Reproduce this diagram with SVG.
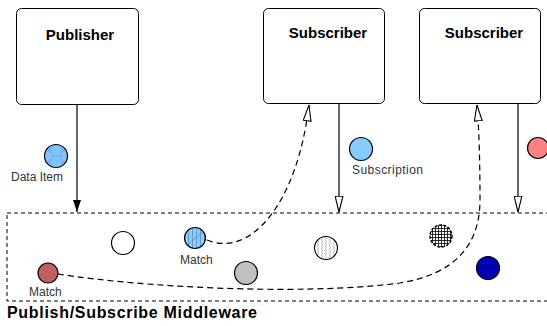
<svg xmlns="http://www.w3.org/2000/svg" width="547" height="326" viewBox="0 0 547 326">
  <style>
    .box { fill: #fff; stroke: #000; stroke-width: 1; }
    .title { font-family: "Liberation Sans", Arial, sans-serif; font-size: 15px; font-weight: bold; fill: #000; }
    .caption { font-family: "Liberation Sans", Arial, sans-serif; font-size: 16px; font-weight: bold; fill: #000; }
    .label { font-family: "Liberation Sans", Arial, sans-serif; font-size: 12px; fill: #333; }
    .solid { fill: none; stroke: #000; stroke-width: 1.2; }
    .dash { fill: none; stroke: #000; stroke-width: 1.2; stroke-dasharray: 6 4; }
    .zone { fill: none; stroke: #000; stroke-width: 1; stroke-dasharray: 4 3; }
    .ball { stroke: #000; stroke-width: 1.2; }
  </style>
  <defs>
    <marker id="filled" viewBox="0 0 12 8" refX="12" refY="4" markerWidth="12" markerHeight="8" orient="auto" markerUnits="userSpaceOnUse">
      <path d="M0,0 L12,4 L0,8 z" fill="#000"/>
    </marker>
    <marker id="hollow" viewBox="0 0 17 9" refX="16.5" refY="4.5" markerWidth="17" markerHeight="9" orient="auto" markerUnits="userSpaceOnUse">
      <path d="M0.6,0.6 L16.5,4.5 L0.6,8.4 z" fill="#fff" stroke="#000" stroke-width="1.1"/>
    </marker>
    <pattern id="grid" width="3" height="3" patternUnits="userSpaceOnUse">
      <rect width="3" height="3" fill="#fff"/>
      <path d="M0,0.5H3M0.5,0V3" stroke="#000" stroke-width="0.8"/>
    </pattern>
    <pattern id="vhatch" width="4" height="4" patternUnits="userSpaceOnUse">
      <rect width="4" height="4" fill="#8ccaff"/>
      <path d="M0.5,0V4" stroke="#4a7aa8" stroke-width="0.6"/>
    </pattern>
    <pattern id="wave" width="4" height="6" patternUnits="userSpaceOnUse">
      <rect width="4" height="6" fill="#fff"/>
      <path d="M1,0 L3,1.5 L1,3 L3,4.5 L1,6" fill="none" stroke="#aaa" stroke-width="0.7"/>
    </pattern>
    <clipPath id="dataClip"><circle cx="56" cy="156" r="11.5"/></clipPath>
    <clipPath id="matchClip"><circle cx="195" cy="238" r="10.5"/></clipPath>
  </defs>

  <!-- middleware zone -->
  <g id="middleware">
    <rect class="zone" x="7" y="213" width="545" height="88"/>
    <text class="caption" x="7" y="318" textLength="250" lengthAdjust="spacing">Publish/Subscribe Middleware</text>
  </g>

  <!-- participants -->
  <g id="publisher">
    <rect class="box" x="16.5" y="8.5" width="122" height="96" rx="5"/>
    <text class="title" x="80" y="40" text-anchor="middle">Publisher</text>
  </g>
  <g id="subscriber1">
    <rect class="box" x="263.5" y="8.5" width="121" height="95" rx="5"/>
    <text class="title" x="328" y="38" text-anchor="middle">Subscriber</text>
  </g>
  <g id="subscriber2">
    <rect class="box" x="419.5" y="8.5" width="121" height="95" rx="5"/>
    <text class="title" x="484" y="38" text-anchor="middle">Subscriber</text>
  </g>

  <!-- connectors -->
  <g id="connectors">
    <path class="solid" d="M77,104 V212" marker-end="url(#filled)"/>
    <path class="solid" d="M339,103 V212" marker-end="url(#hollow)"/>
    <path class="solid" d="M518,103 V212" marker-end="url(#hollow)"/>
    <path class="dash" d="M207,240 C250,258 297,205 309,105" marker-end="url(#hollow)"/>
    <path class="dash" d="M58,274 C140,287 300,296 400,283 C455,274 480,245 480,200 C480,160 479,130 477,105" marker-end="url(#hollow)"/>
  </g>

  <!-- data item -->
  <g id="data-item">
    <circle class="ball" cx="56" cy="156" r="11.5" fill="#80c4ff"/>
    <g clip-path="url(#dataClip)" fill="none" stroke="#5d8fbe" stroke-width="0.5">
      <path d="M45,152 L50,150 L54,145 M50,150 L53,156 L60,156 L63,150 L58,145 M63,150 L68,152 M53,156 L50,162 L45,162 M60,156 L63,162 L68,163 M50,162 L54,168 M63,162 L59,168"/>
    </g>
    <text class="label" x="11" y="181">Data Item</text>
  </g>

  <!-- subscriptions -->
  <g id="subscription-blue">
    <circle class="ball" cx="361" cy="149" r="11.5" fill="#88ccff"/>
    <text class="label" x="352" y="174" textLength="71">Subscription</text>
  </g>
  <g id="subscription-red">
    <circle class="ball" cx="538" cy="148" r="10.5" fill="#ff8080"/>
  </g>

  <!-- items held by the middleware -->
  <g id="item-white">
    <circle class="ball" cx="123" cy="243" r="11.5" fill="#fff"/>
  </g>
  <g id="match-blue">
    <circle cx="195" cy="238" r="10.5" fill="url(#vhatch)"/>
    <path clip-path="url(#matchClip)" d="M186,246 L205,230" fill="none" stroke="#4a7aa8" stroke-width="0.6"/>
    <circle class="ball" cx="195" cy="238" r="10.5" fill="none"/>
    <text class="label" x="180" y="264">Match</text>
  </g>
  <g id="item-gray">
    <circle class="ball" cx="246" cy="273" r="11.5" fill="#c0c0c0"/>
  </g>
  <g id="match-red">
    <circle class="ball" cx="48" cy="273" r="10" fill="#c06060"/>
    <text class="label" x="29" y="296">Match</text>
  </g>
  <g id="item-wavy">
    <circle class="ball" cx="326" cy="248" r="11.5" fill="url(#wave)"/>
  </g>
  <g id="item-grid">
    <circle cx="441" cy="236" r="11" fill="url(#grid)" stroke="#000" stroke-width="1.4" stroke-dasharray="3 1.5"/>
  </g>
  <g id="item-navy">
    <circle class="ball" cx="488" cy="268" r="11.5" fill="#0000b0"/>
  </g>
</svg>
